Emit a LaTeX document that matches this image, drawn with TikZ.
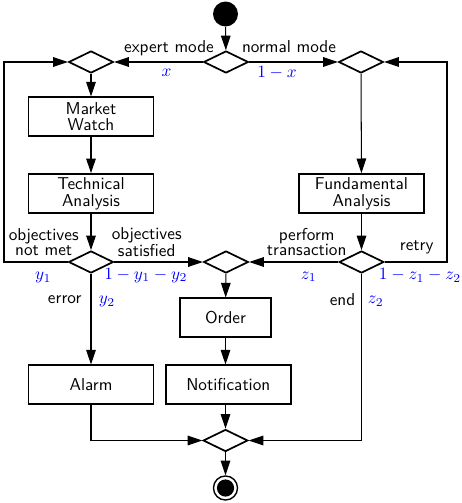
\documentclass[tikz,border=0pt]{standalone}
\usepackage{tikz}
\usetikzlibrary{shapes.geometric,arrows.meta,positioning}

\tikzset{
  activity/.style={draw,line width=1pt,minimum width=72.7pt,minimum height=22.3pt,
    align=center,inner sep=2pt,font=\sffamily\fontsize{10}{9.7}\selectfont},
  branch/.style={diamond,draw,line width=1pt,minimum width=26pt,minimum height=12.8pt,inner sep=0pt},
  flowline/.style={line width=0.6pt,-{Triangle[length=8.5pt,width=5.6pt]}},
  guard/.style={align=center,inner sep=0pt,font=\sffamily\fontsize{10}{8.5}\selectfont},
  prob/.style={text=blue,inner sep=0pt},
}

\begin{document}
\begin{tikzpicture}[x=0.5813pt,y=-0.5813pt]
  \useasboundingbox (0,0) rectangle (461,503);

  % states and decisions
  \node[circle,fill,minimum size=14.5pt,inner sep=0pt] (start) at (225.5,14) {};
  \node[branch] (dtop) at (226,62) {};
  \node[branch] (dleft) at (91,62) {};
  \node[branch] (dright) at (361,62) {};
  \node[activity] (watch) at (91,116.5) {Market\\Watch};
  \node[activity] (tech) at (91,193.5) {Technical\\Analysis};
  \node[activity] (fund) at (361.5,193.5) {Fundamental\\Analysis};
  \node[branch] (dtech) at (91,262) {};
  \node[branch] (dmid) at (226,262) {};
  \node[branch] (dfund) at (361.5,262) {};
  \node[activity,minimum width=52.5pt] (order) at (225.5,317.5) {Order};
  \node[activity] (alarm) at (91,384.5) {Alarm};
  \node[activity] (notif) at (228.3,384.5) {Notification};
  \node[branch] (dend) at (225.5,440.5) {};
  \node[circle,draw,line width=0.8pt,minimum size=14pt,inner sep=0pt,
    path picture={\fill (path picture bounding box.center) circle (5pt);}] (stop) at (225.5,488) {};

  \coordinate (lbot) at (4,262);
  \coordinate (ltop) at (4,62);
  \coordinate (rbot) at (447,262);
  \coordinate (rtop) at (447,62);

  % guards and probabilities
  \node[guard] (gexpert) at (169,48) {expert mode};
  \node[prob] (px) at (166.5,72.5) {$x$};
  \node[guard] (gnormal) at (289,47) {normal mode};
  \node[prob] (pnx) at (277,72.5) {$1-x$};
  \node[guard] (gnotmet) at (43.7,242) {objectives\\not met};
  \node[guard] (gsat) at (146.7,242) {objectives\\satisfied};
  \node[prob] (py1) at (43.3,277.5) {$y_1$};
  \node[prob] (pny) at (145.8,275.5) {$1-y_1-y_2$};
  \node[guard] (gerror) at (64.7,300) {error};
  \node[prob] (py2) at (107,301.5) {$y_2$};
  \node[guard] (gperform) at (306.7,242) {perform\\transaction};
  \node[guard] (gretry) at (416.7,247) {retry};
  \node[prob] (pz1) at (308.8,277) {$z_1$};
  \node[prob] (pnz) at (420,275.5) {$1-z_1-z_2$};
  \node[guard] (gend) at (342.5,300) {end};
  \node[prob] (pz2) at (375.8,301.5) {$z_2$};

  % control flow
  \draw[flowline] (start) -- (dtop);
  \draw[flowline] (dtop.west) -- (dleft.east);
  \draw[flowline] (dtop.east) -- (dright.west);
  \draw[flowline] (dleft) -- (watch);
  \draw[flowline] (watch) -- (tech);
  \draw[flowline] (tech) -- (dtech);
  \draw[flowline] (dtech.west) -- (lbot) -- (ltop) -- (dleft.west);
  \draw[flowline] (dtech.east) -- (dmid.west);
  \draw[flowline] (dtech) -- (alarm);
  \draw[flowline] (dright) -- (fund);
  \draw[flowline] (fund) -- (dfund);
  \draw[flowline] (dfund.west) -- (dmid.east);
  \draw[flowline] (dfund.east) -- (rbot) -- (rtop) -- (dright.east);
  \draw[flowline] (dfund.south) |- (dend.east);
  \draw[flowline] (dmid) -- (order);
  \draw[flowline] (order.south) -- (order.south |- notif.north);
  \draw[flowline] (alarm.south) |- (dend.west);
  \draw[flowline] (dend.north |- notif.south) -- (dend.north);
  \draw[flowline] (dend) -- (stop);
\end{tikzpicture}
\end{document}
